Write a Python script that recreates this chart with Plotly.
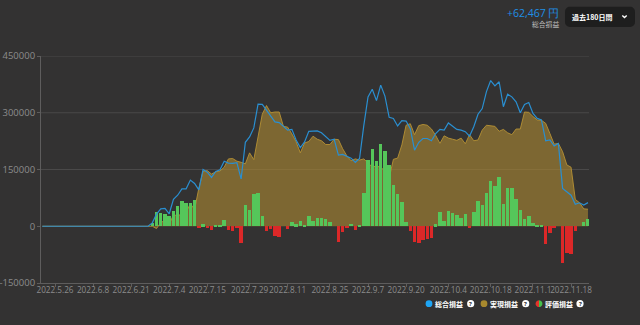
import math
import plotly.graph_objects as go

# ---------------- data ----------------
tick_labels = ["2022.5.26", "2022.6.8", "2022.6.21", "2022.7.4", "2022.7.15", "2022.7.29",
               "2022.8.11", "2022.8.25", "2022.9.7", "2022.9.20", "2022.10.4", "2022.10.18",
               "2022.11.1", "2022.11.18"]
tick_pos = [3, 12, 21, 30, 39, 49, 58, 68, 77, 86, 96, 106, 116, 125]

unrealized = [
    0, 0, 0, 0, 0, 0, 0, 0, 0, 0,
    0, 0, 0, 0, 0, 0, 0, 0, 0, 0,
    0, 0, 0, 0, 0, 0, 9000, 38000, 36000, 32000,
    28000, 41000, 54000, 67000, 62000, 62000, 69000, -4000, 5000, -4000,
    -9000, 1000, 3000, 16000, -11000, -13000, -4000, -44000, 57000, 42000,
    84000, 87000, 26000, -13000, -8000, -26000, -28000, 0, -8000, 12000,
    5000, 14000, 3000, 27000, 14000, 22000, 21000, 20000, 11000, 0,
    -41000, -15000, -2000, 7000, -9000, 4000, 88000, 175000, 205000, 173000,
    217000, 198000, 161000, 108000, 85000, 64000, 11000, -13000, -41000, -44000,
    -37000, -35000, -31000, 5000, 37000, 15000, 40000, 35000, 29000, 21000,
    32000, -4000, 37000, 68000, 57000, 89000, 120000, 107000, 131000, 60000,
    102000, 100000, 72000, 43000, 20000, 26000, 8000, 4000, 1000, -46000,
    -17000, -5000, 0, -97000, -71000, -74000, -13000, 0, 10000, 18000,
]

realized = [
    0, 0, 0, 0, 0, 0, 0, 0, 0, 0,
    0, 0, 0, 0, 0, 0, 0, 0, 0, 0,
    0, 0, 0, 0, 0, 0, 0, -6000, 10000, 15000,
    5000, 30000, 28000, 32000, 37000, 60000, 44000, 100000, 145000, 147000,
    138000, 144000, 146000, 156000, 178000, 179000, 172000, 169000, 165000, 194000,
    176000, 236000, 296000, 319000, 300000, 302000, 302000, 264000, 262000, 244000,
    223000, 194000, 220000, 224000, 238000, 230000, 226000, 216000, 216000, 230000,
    229000, 205000, 186000, 173000, 178000, 175000, 178000, 167000, 157000, 159000,
    156000, 146000, 127000, 177000, 180000, 215000, 267000, 271000, 242000, 266000,
    269000, 267000, 257000, 240000, 219000, 239000, 233000, 230000, 227000, 233000,
    218000, 242000, 226000, 228000, 254000, 267000, 265000, 264000, 251000, 256000,
    247000, 242000, 257000, 257000, 302000, 301000, 290000, 281000, 280000, 272000,
    245000, 217000, 219000, 197000, 162000, 156000, 71000, 62000, 46000, 45000,
]

total = [
    0, 0, 0, 0, 0, 0, 0, 0, 0, 0,
    0, 0, 0, 0, 0, 0, 0, 0, 0, 0,
    0, 0, 0, 0, 0, 0, 9000, 32000, 46000, 47000,
    33000, 71000, 82000, 99000, 99000, 122000, 113000, 96000, 150000, 143000,
    129000, 145000, 149000, 172000, 167000, 166000, 168000, 125000, 222000, 236000,
    260000, 323000, 322000, 306000, 292000, 276000, 274000, 264000, 254000, 256000,
    228000, 208000, 223000, 251000, 252000, 252000, 247000, 236000, 227000, 230000,
    188000, 190000, 184000, 180000, 169000, 179000, 266000, 342000, 362000, 332000,
    373000, 344000, 288000, 285000, 265000, 279000, 278000, 258000, 201000, 222000,
    232000, 232000, 226000, 245000, 256000, 254000, 273000, 265000, 256000, 254000,
    250000, 238000, 263000, 296000, 311000, 356000, 385000, 371000, 382000, 316000,
    349000, 342000, 329000, 300000, 322000, 327000, 298000, 285000, 281000, 226000,
    228000, 212000, 219000, 100000, 91000, 82000, 58000, 62000, 56000, 62467,
]

y_ticks = [-150000, 0, 150000, 300000, 450000]
y_labels = ["-150000", "0", "150000", "300000", "450000"]
grid_vals = [150000, 300000, 450000]

series_names = ["総合損益", "実現損益", "評価損益"]
period_label = "過去180日間"

# ---------------- style ----------------
BG = "#333232"
GRID = "#4a4949"
AXIS = "#5e5d5d"
TICK = "#8c8c8c"
GREEN = "#55c65a"
RED = "#dc2828"
BLUE = "#2a8fd1"
JP = "Noto Sans CJK JP"

L, R, T, B = 41, 51, 56, 42
W, H = 640, 325
PW, PH = W - L - R, H - T - B

XR = [-0.31, 129.24]
YR = [-150000, 450000]


def fx(px):
    return (px - L) / PW


def fy(py):
    return (H - B - py) / PH


x = list(range(len(total)))

fig = go.Figure()
# area on the base subplot (drawn first)
fig.add_trace(go.Scatter(
    x=x, y=realized, mode="lines",
    line=dict(color="rgba(178,142,52,0.95)", width=1),
    fill="tozeroy", fillcolor="rgba(171,135,50,0.62)",
    hoverinfo="skip", xaxis="x", yaxis="y"))
# bars + total line on an overlaid subplot, so they sit above the area
fig.add_trace(go.Bar(
    x=x, y=unrealized, width=0.82,
    marker=dict(color=[GREEN if v >= 0 else RED for v in unrealized], line=dict(width=0)),
    hoverinfo="skip", xaxis="x2", yaxis="y2"))
fig.add_trace(go.Scatter(
    x=x, y=total, mode="lines",
    line=dict(color=BLUE, width=1.2),
    hoverinfo="skip", xaxis="x2", yaxis="y2"))

shapes = []
for g in grid_vals:
    shapes.append(dict(type="line", xref="paper", yref="y", x0=0, x1=1, y0=g, y1=g,
                       line=dict(color=GRID, width=1), layer="below"))


def circle(cx, cy, r, color):
    return dict(type="circle", xref="paper", yref="paper",
                x0=fx(cx - r), x1=fx(cx + r), y0=fy(cy + r), y1=fy(cy - r),
                fillcolor=color, line=dict(width=0))


def ppath(points, closed=True, **kw):
    d = "M " + " L ".join(f"{fx(px):.5f},{fy(py):.5f}" for px, py in points)
    if closed:
        d += " Z"
    return dict(type="path", xref="paper", yref="paper", path=d, **kw)


annotations = []


def ptext(text, px, py, xanchor="left", size=8, color="#ffffff", family=JP):
    annotations.append(dict(text=text, xref="paper", yref="paper",
                            x=fx(px), y=fy(py),
                            xanchor=xanchor, yanchor="middle", showarrow=False,
                            font=dict(size=size, color=color, family=family),
                            borderpad=0, borderwidth=0))


# legend
ly = 303.7
r_dot = 3.4
shapes.append(circle(429, ly, r_dot, "#1ea5f5"))
ptext("<b>" + series_names[0] + "</b>", 434.8, ly, size=7)
shapes.append(circle(484, ly, r_dot, "#a8892e"))
ptext("<b>" + series_names[1] + "</b>", 489.6, ly, size=7)
cx = 539
left_half = [(cx + r_dot * math.cos(math.radians(a)), ly - r_dot * math.sin(math.radians(a)))
             for a in range(90, 271, 15)]
right_half = [(cx + r_dot * math.cos(math.radians(a)), ly - r_dot * math.sin(math.radians(a)))
              for a in range(-90, 91, 15)]
shapes.append(ppath(left_half, fillcolor="#e2332b", line=dict(width=0)))
shapes.append(ppath(right_half, fillcolor="#45c04b", line=dict(width=0)))
ptext("<b>" + series_names[2] + "</b>", 544.6, ly, size=7)
for qx in (470.7, 525.7, 580):
    shapes.append(circle(qx, ly, 3.6, "#ffffff"))
    ptext("<b>?</b>", qx, ly + 0.2, xanchor="center", size=6, color="#2a2a2a", family="Open Sans")

# header
ptext(f"+{total[-1]:,} 円", 559, 13.3, xanchor="right", size=10.5, color="#1f8fe6", family="Open Sans")
ptext(series_names[0], 559, 24.5, xanchor="right", size=6.8, color="#bdbdbd")

# dropdown (rounded box)
bx0, bx1, by0, by1, rr = 565, 635, 6.7, 27, 5
pts = []
corners = [(bx1 - rr, by0 + rr, -90, 0), (bx1 - rr, by1 - rr, 0, 90),
           (bx0 + rr, by1 - rr, 90, 180), (bx0 + rr, by0 + rr, 180, 270)]
for ccx, ccy, a0, a1 in corners:
    for a in range(a0, a1 + 1, 15):
        pts.append((ccx + rr * math.cos(math.radians(a)), ccy + rr * math.sin(math.radians(a))))
shapes.append(ppath(pts, fillcolor="#1e1e1e", line=dict(width=0)))
ptext("<b>" + period_label + "</b>", 592, 17.2, xanchor="center", size=7, color="#ffffff")
shapes.append(ppath([(622.3, 15.4), (624.5, 17.6), (626.7, 15.4)], closed=False,
                    line=dict(color="#ffffff", width=1.4)))

axis_common = dict(showgrid=False, zeroline=False, showline=True, linecolor=AXIS, linewidth=1,
                   ticks="outside", ticklen=3, tickcolor=AXIS, tickwidth=1,
                   automargin=False, fixedrange=True)

fig.update_layout(
    width=W, height=H,
    margin=dict(l=L, r=R, t=T, b=B, pad=0, autoexpand=False),
    paper_bgcolor=BG, plot_bgcolor=BG,
    showlegend=False, bargap=0,
    font=dict(family="Open Sans", color=TICK),
    shapes=shapes, annotations=annotations,
    xaxis=dict(range=XR, tickmode="array", tickvals=tick_pos, ticktext=tick_labels, tickangle=0,
               ticklabelstandoff=-4,
               tickfont=dict(size=8.2, color=TICK, family="Open Sans"), **axis_common),
    yaxis=dict(range=YR, tickmode="array", tickvals=y_ticks, ticktext=y_labels,
               tickfont=dict(size=9.5, color=TICK, family="Open Sans"), **axis_common),
    xaxis2=dict(range=XR, overlaying="x", visible=False, fixedrange=True),
    yaxis2=dict(range=YR, overlaying="y", visible=False, fixedrange=True),
)

fig.write_html("out.html", config={"displayModeBar": False})
